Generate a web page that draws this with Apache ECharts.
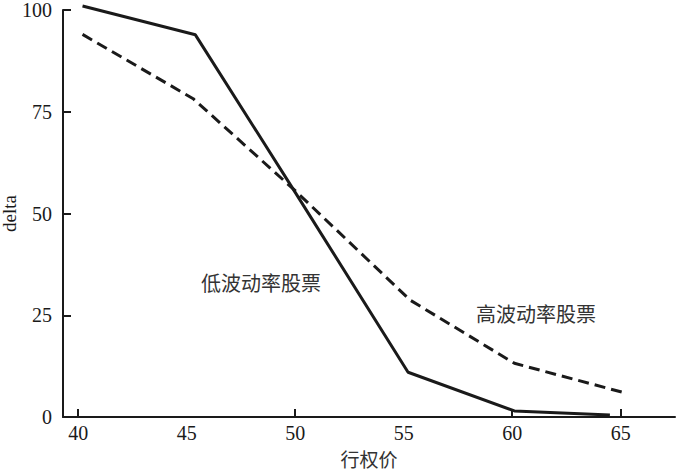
<!DOCTYPE html>
<html>
<head>
<meta charset="utf-8">
<script src="https://cdn.jsdelivr.net/npm/echarts@6/dist/echarts.min.js"></script>
<style>
  html, body { margin: 0; padding: 0; background: #fff; }
  #chart { width: 677px; height: 474px; }
</style>
</head>
<body>
<div id="chart"></div>
<script>
(function() {
  // --- data ---
  var strikeTicks = [40, 45, 50, 55, 60, 65];
  var tickMarks = [40, 50, 60, 65];

  var lowVolStrike = [40.2, 45.4, 50, 55.2, 60.1, 64.5];
  var lowVolDelta = [101, 93.9, 55.2, 11, 1.5, 0.5];
  var highVolStrike = [40.2, 45.3, 50, 55.3, 60.1, 65.2];
  var highVolDelta = [94, 78.2, 55.6, 28.7, 13.2, 5.9];

  function pairs(xs, ys) {
    return xs.map(function(x, i) { return [x, ys[i]]; });
  }

  var ink = '#1a1a1a';
  var serif = '"Liberation Serif", "DejaVu Serif", serif';
  var cjk = '"Noto Sans CJK SC", sans-serif';

  var chart = echarts.init(document.getElementById('chart'), null, { renderer: 'svg' });
  chart.setOption({
    animation: false,
    grid: { left: 63, right: 2, top: 10, bottom: 57, containLabel: false, outerBoundsMode: 'none' },
    xAxis: {
      type: 'value',
      min: 39.3,
      max: 67.5,
      name: '行权价',
      nameLocation: 'middle',
      nameGap: 32,
      nameMoveOverlap: false,
      nameTextStyle: { fontFamily: cjk, fontSize: 19, color: '#333' },
      splitLine: { show: false },
      axisLine: { show: true, lineStyle: { color: ink, width: 2 } },
      axisTick: { show: true, inside: true, length: 8, lineStyle: { color: ink, width: 2 }, customValues: tickMarks },
      axisLabel: { customValues: strikeTicks, color: ink, fontFamily: serif, fontSize: 20, margin: 6 }
    },
    yAxis: {
      type: 'value',
      min: 0,
      max: 100,
      interval: 25,
      name: 'delta',
      nameLocation: 'middle',
      nameGap: 44,
      nameMoveOverlap: false,
      nameRotate: 90,
      nameTextStyle: { fontFamily: serif, fontSize: 19, color: ink },
      splitLine: { show: false },
      axisLine: { show: true, lineStyle: { color: ink, width: 2 } },
      axisTick: { show: true, inside: true, length: 8, lineStyle: { color: ink, width: 2 } },
      axisLabel: { color: ink, fontFamily: serif, fontSize: 20, margin: 11 }
    },
    series: [
      {
        name: '低波动率股票',
        type: 'line',
        data: pairs(lowVolStrike, lowVolDelta),
        symbol: 'none',
        clip: false,
        lineStyle: { color: ink, width: 3 }
      },
      {
        name: '高波动率股票',
        type: 'line',
        data: pairs(highVolStrike, highVolDelta),
        symbol: 'none',
        clip: false,
        lineStyle: { color: ink, width: 3, type: [11, 6] }
      }
    ],
    graphic: [
      { type: 'text', left: 201, top: 272, style: { text: '低波动率股票', font: '20px ' + cjk, fill: '#333' } },
      { type: 'text', left: 476, top: 303, style: { text: '高波动率股票', font: '20px ' + cjk, fill: '#333' } }
    ]
  });
  window.addEventListener('resize', function() { chart.resize(); });
})();
</script>
</body>
</html>
